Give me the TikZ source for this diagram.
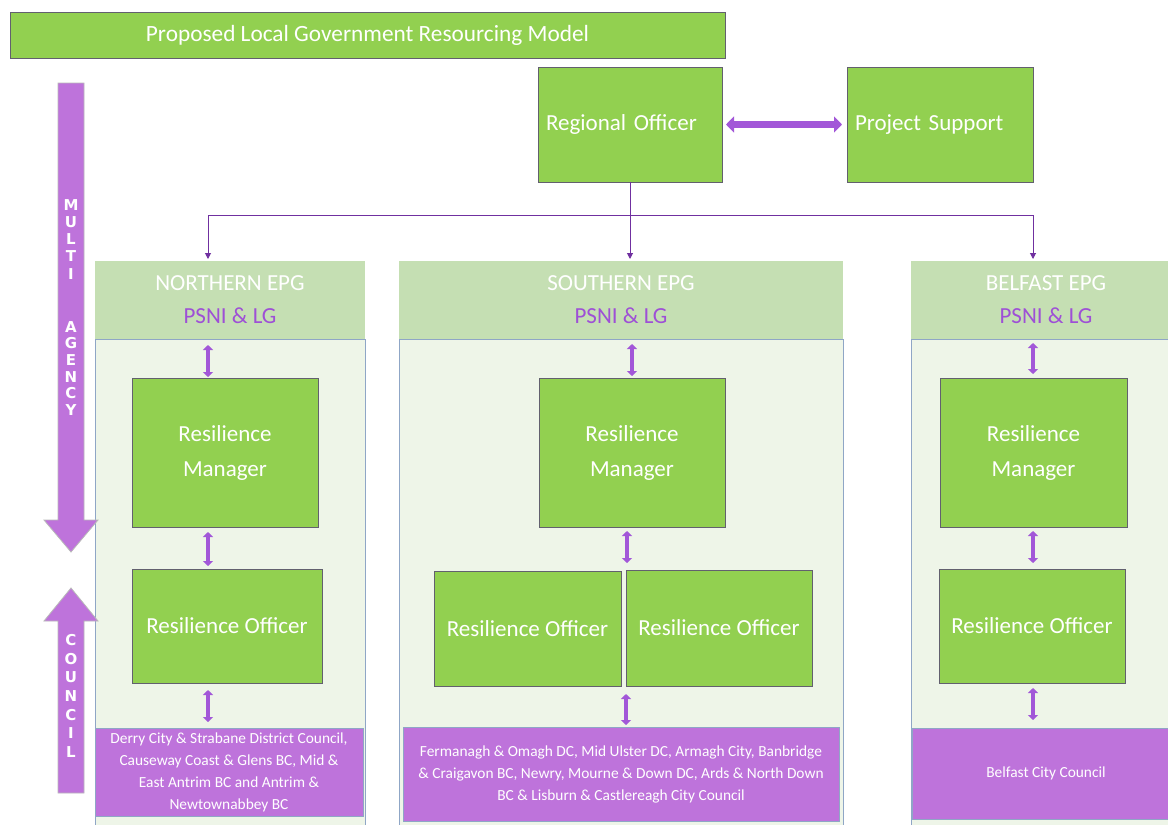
\documentclass[tikz,border=0pt]{standalone}
\usepackage{fontspec}
\setmainfont{Carlito}
\newfontfamily\letterfont{DejaVu Sans}
\usetikzlibrary{arrows.meta,calc}
\definecolor{gr}{HTML}{92D050}
\definecolor{grhead}{HTML}{C5DFB3}
\definecolor{grbody}{HTML}{EEF5E8}
\definecolor{pu}{HTML}{BE73DB}
\definecolor{puarrow}{HTML}{A257D8}
\definecolor{puline}{HTML}{7030A0}
\definecolor{pstext}{HTML}{9E4FD6}
\definecolor{colborder}{HTML}{8FA6C6}
\definecolor{boxborder}{HTML}{62606E}
\tikzset{
  greenbox/.style={draw=boxborder, line width=0.9pt, fill=gr, text=white, inner sep=0pt, outer sep=0pt, align=center, font=\fontsize{23}{35}\selectfont},
  headbox/.style={fill=grhead, inner sep=0pt, outer sep=0pt, align=center, font=\fontsize{23}{33}\selectfont, text=white},
  councilbox/.style={draw=colborder, line width=0.8pt, fill=pu, text=white, inner sep=0pt, outer sep=0pt, align=center, font=\fontsize{15.4}{22}\selectfont},
  conn/.style={draw=puline, line width=1pt},
  connarrow/.style={conn, -{Triangle[width=6pt,length=6pt]}},
  dblarrow/.style={draw=puarrow, line width=4pt, {Triangle[width=10pt,length=5pt]}-{Triangle[width=10pt,length=5pt]}},
  bigarrow/.style={fill=pu, draw=gray!55, line width=0.8pt},
  vletter/.style={text=white, font=\letterfont\bfseries\fontsize{15}{15}\selectfont, inner sep=0pt},
}
\begin{document}
\begin{tikzpicture}[x=1pt,y=-1pt]
\useasboundingbox (0,0) rectangle (1168,825);
\fill[white] (0,0) rectangle (1168,825);

% title
\node[greenbox, minimum width=715pt, minimum height=46pt, font=\fontsize{23.3}{26}\selectfont] (title) at (367.5,35) {Proposed Local Government Resourcing Model};

% top boxes
\node[greenbox, minimum width=184pt, minimum height=115pt, text width=168pt, align=left] (ro) at (630,124.5) {Regional Officer};
\node[greenbox, minimum width=186pt, minimum height=115pt, text width=170pt, align=left] (ps) at (940,124.5) {Project Support};
\draw[draw=puarrow, line width=7pt, {Triangle[width=16pt,length=8pt]}-{Triangle[width=16pt,length=8pt]}, shorten <=4pt, shorten >=5pt] (ro.east) -- (ps.west);

% column bodies
\draw[fill=grbody, draw=colborder, line width=0.8pt] (95,339) rectangle (365,830);
\draw[fill=grbody, draw=colborder, line width=0.8pt] (399,339) rectangle (843,830);
\draw[fill=grbody, draw=colborder, line width=0.8pt] (911,339) rectangle (1180,830);

% headers
\node[headbox, minimum width=270pt, minimum height=78pt] (hdrN) at (230,300) {NORTHERN EPG\\\textcolor{pstext}{PSNI \& LG}};
\node[headbox, minimum width=444pt, minimum height=78pt] (hdrS) at (621,300) {SOUTHERN EPG\\\textcolor{pstext}{PSNI \& LG}};
\node[headbox, minimum width=270pt, minimum height=78pt] (hdrB) at (1046,300) {BELFAST EPG\\\textcolor{pstext}{PSNI \& LG}};

% connectors from regional officer
\coordinate (bus) at (0,215);
\coordinate (axN) at (208,0);
\coordinate (axB) at (1033,0);
\draw[conn] (ro.south) -- (ro.south |- bus);
\draw[conn] (axN |- bus) -- (axB |- bus);
\draw[connarrow, shorten >=2pt] (axN |- bus) -- (axN |- hdrN.north);
\draw[connarrow, shorten >=2pt] (ro.south |- bus) -- (ro.south |- hdrS.north);
\draw[connarrow, shorten >=2pt] (axB |- bus) -- (axB |- hdrB.north);

% resilience managers
\node[greenbox, minimum width=186pt, minimum height=149pt] (rmN) at (225,452.5) {Resilience\\Manager};
\node[greenbox, minimum width=186pt, minimum height=149pt] (rmS) at (632,452.5) {Resilience\\Manager};
\node[greenbox, minimum width=187pt, minimum height=149pt] (rmB) at (1033.5,452.5) {Resilience\\Manager};

% resilience officers
\node[greenbox, minimum width=190pt, minimum height=114pt] (roN) at (227,626) {Resilience Officer};
\node[greenbox, minimum width=187pt, minimum height=115pt] (roS1) at (527.5,628.5) {Resilience Officer};
\node[greenbox, minimum width=186pt, minimum height=116pt] (roS2) at (719,628) {Resilience Officer};
\node[greenbox, minimum width=186pt, minimum height=114pt] (roB) at (1032,626) {Resilience Officer};

% councils
\node[councilbox, minimum width=268pt, minimum height=88pt] (cN) at (229,772) {Derry City \& Strabane District Council,\\Causeway Coast \& Glens BC, Mid \&\\East Antrim BC and Antrim \&\\Newtownabbey BC};
\node[councilbox, minimum width=436pt, minimum height=94pt] (cS) at (621,774) {Fermanagh \& Omagh DC, Mid Ulster DC, Armagh City, Banbridge\\\& Craigavon BC, Newry, Mourne \& Down DC, Ards \& North Down\\BC \& Lisburn \& Castlereagh City Council};
\node[councilbox, minimum width=268pt, minimum height=91pt] (cB) at (1046,773.5) {Belfast City Council};

% small double arrows
\coordinate (axS) at (632,0);
\coordinate (axS2) at (627,0);
\coordinate (axS3) at (626,0);
\draw[dblarrow, shorten <=6pt, shorten >=1pt] (axN |- hdrN.south) -- (axN |- rmN.north);
\draw[dblarrow, shorten <=5pt, shorten >=3pt] (axN |- rmN.south) -- (axN |- roN.north);
\draw[dblarrow, shorten <=7pt, shorten >=6pt] (axN |- roN.south) -- (axN |- cN.north);
\draw[dblarrow, shorten <=5pt, shorten >=2pt] (axS |- hdrS.south) -- (axS |- rmS.north);
\draw[dblarrow, shorten <=4pt, shorten >=7pt] (axS2 |- rmS.south) -- (axS2 |- roS2.north);
\draw[dblarrow, shorten <=8pt, shorten >=2pt] (axS3 |- roS2.south) -- (axS3 |- cS.north);
\draw[dblarrow, shorten <=4pt, shorten >=4pt] (axB |- hdrB.south) -- (axB |- rmB.north);
\draw[dblarrow, shorten <=4pt, shorten >=6pt] (axB |- rmB.south) -- (axB |- roB.north);
\draw[dblarrow, shorten <=5pt, shorten >=8pt] (axB |- roB.south) -- (axB |- cB.north);

% big side arrows
\draw[bigarrow] (58,83) -- (84,83) -- (84,520) -- (98,520) -- (71,552) -- (44,520) -- (58,520) -- cycle;
\draw[bigarrow] (58,793) -- (84,793) -- (84,621) -- (98,621) -- (71,588) -- (44,621) -- (58,621) -- cycle;

\foreach \ch/\yy [count=\i] in {M/205,U/222,L/239,T/256,I/274,A/327,G/343,E/360,N/377,C/393,Y/410}
  \node[vletter] (ma\i) at (71,\yy) {\ch};
\foreach \ch/\yy [count=\i] in {C/640,O/659,U/677,N/696,C/715,I/733,L/752}
  \node[vletter] (co\i) at (71,\yy) {\ch};
\end{tikzpicture}
\end{document}
